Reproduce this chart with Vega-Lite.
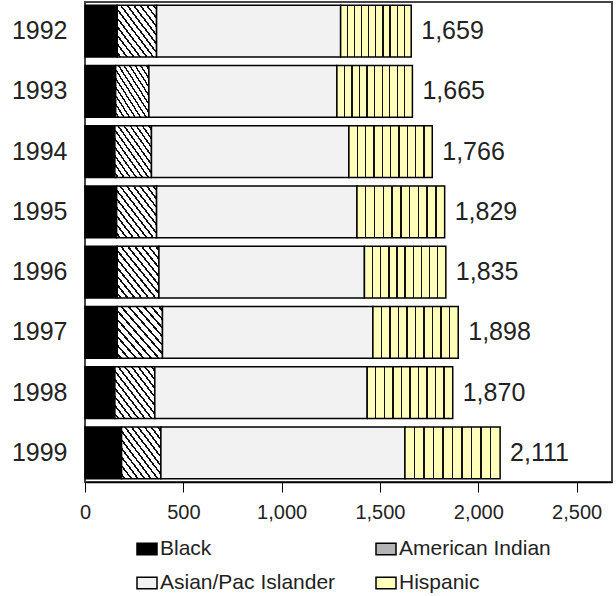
{
  "$schema": "https://vega.github.io/schema/vega-lite/v6.json",
  "width": 527,
  "height": 480,
  "padding": {"left": 11, "top": 2, "right": 4, "bottom": 0},
  "background": "#ffffff",
  "config": {
    "font": "Liberation Sans",
    "view": {"stroke": "#444", "strokeWidth": 2}
  },
  "data": {
    "values": [
      {"year": "1992", "category": "Black", "order": 1, "value": 164},
      {"year": "1992", "category": "American Indian", "order": 2, "value": 200},
      {"year": "1992", "category": "Asian/Pac Islander", "order": 3, "value": 936},
      {"year": "1992", "category": "Hispanic", "order": 4, "value": 359},
      {"year": "1993", "category": "Black", "order": 1, "value": 156},
      {"year": "1993", "category": "American Indian", "order": 2, "value": 169},
      {"year": "1993", "category": "Asian/Pac Islander", "order": 3, "value": 956},
      {"year": "1993", "category": "Hispanic", "order": 4, "value": 384},
      {"year": "1994", "category": "Black", "order": 1, "value": 152},
      {"year": "1994", "category": "American Indian", "order": 2, "value": 186},
      {"year": "1994", "category": "Asian/Pac Islander", "order": 3, "value": 1004},
      {"year": "1994", "category": "Hispanic", "order": 4, "value": 424},
      {"year": "1995", "category": "Black", "order": 1, "value": 161},
      {"year": "1995", "category": "American Indian", "order": 2, "value": 203},
      {"year": "1995", "category": "Asian/Pac Islander", "order": 3, "value": 1019},
      {"year": "1995", "category": "Hispanic", "order": 4, "value": 446},
      {"year": "1996", "category": "Black", "order": 1, "value": 164},
      {"year": "1996", "category": "American Indian", "order": 2, "value": 212},
      {"year": "1996", "category": "Asian/Pac Islander", "order": 3, "value": 1045},
      {"year": "1996", "category": "Hispanic", "order": 4, "value": 414},
      {"year": "1997", "category": "Black", "order": 1, "value": 164},
      {"year": "1997", "category": "American Indian", "order": 2, "value": 230},
      {"year": "1997", "category": "Asian/Pac Islander", "order": 3, "value": 1070},
      {"year": "1997", "category": "Hispanic", "order": 4, "value": 434},
      {"year": "1998", "category": "Black", "order": 1, "value": 152},
      {"year": "1998", "category": "American Indian", "order": 2, "value": 203},
      {"year": "1998", "category": "Asian/Pac Islander", "order": 3, "value": 1080},
      {"year": "1998", "category": "Hispanic", "order": 4, "value": 435},
      {"year": "1999", "category": "Black", "order": 1, "value": 186},
      {"year": "1999", "category": "American Indian", "order": 2, "value": 200},
      {"year": "1999", "category": "Asian/Pac Islander", "order": 3, "value": 1241},
      {"year": "1999", "category": "Hispanic", "order": 4, "value": 484}
    ]
  },
  "layer": [
    {
      "mark": {"type": "bar", "stroke": "#000", "strokeWidth": 1.5},
      "encoding": {
        "y": {
          "field": "year", "type": "ordinal",
          "scale": {"paddingInner": 0.142, "paddingOuter": 0.055},
          "axis": {"title": null, "ticks": false, "domain": false, "labelFontSize": 25, "labelColor": "#222", "labelPadding": 18, "labelFont": "Liberation Sans"}
        },
        "x": {
          "field": "value", "type": "quantitative", "stack": "zero",
          "scale": {"domain": [0, 2680], "nice": false},
          "axis": {"title": null, "grid": false, "values": [0, 500, 1000, 1500, 2000, 2500], "format": ",.0f", "tickSize": 10, "tickColor": "#000", "domainColor": "#000", "domainWidth": 1.5, "labelFontSize": 20, "labelColor": "#222", "labelPadding": 10, "labelFont": "Liberation Sans", "labelFlush": false}
        },
        "fill": {
          "field": "category", "type": "nominal",
          "scale": {
            "domain": ["Black", "American Indian", "Asian/Pac Islander", "Hispanic"],
            "range": ["#000000", "#b4b4b4", "#f2f2f2", "#ffffbb"]
          },
          "condition": [
            {"test": "datum.category === 'American Indian'", "value": {"gradient": "linear", "x1": 0, "y1": 1, "x2": 1, "y2": 0, "stops": [
                {"offset": 0, "color": "#ffffff"},
                {"offset": 0.030, "color": "#ffffff"}, {"offset": 0.030, "color": "#111111"}, {"offset": 0.055, "color": "#111111"}, {"offset": 0.055, "color": "#ffffff"},
                {"offset": 0.113, "color": "#ffffff"}, {"offset": 0.113, "color": "#111111"}, {"offset": 0.138, "color": "#111111"}, {"offset": 0.138, "color": "#ffffff"},
                {"offset": 0.197, "color": "#ffffff"}, {"offset": 0.197, "color": "#111111"}, {"offset": 0.222, "color": "#111111"}, {"offset": 0.222, "color": "#ffffff"},
                {"offset": 0.280, "color": "#ffffff"}, {"offset": 0.280, "color": "#111111"}, {"offset": 0.305, "color": "#111111"}, {"offset": 0.305, "color": "#ffffff"},
                {"offset": 0.363, "color": "#ffffff"}, {"offset": 0.363, "color": "#111111"}, {"offset": 0.388, "color": "#111111"}, {"offset": 0.388, "color": "#ffffff"},
                {"offset": 0.447, "color": "#ffffff"}, {"offset": 0.447, "color": "#111111"}, {"offset": 0.472, "color": "#111111"}, {"offset": 0.472, "color": "#ffffff"},
                {"offset": 0.530, "color": "#ffffff"}, {"offset": 0.530, "color": "#111111"}, {"offset": 0.555, "color": "#111111"}, {"offset": 0.555, "color": "#ffffff"},
                {"offset": 0.613, "color": "#ffffff"}, {"offset": 0.613, "color": "#111111"}, {"offset": 0.638, "color": "#111111"}, {"offset": 0.638, "color": "#ffffff"},
                {"offset": 0.697, "color": "#ffffff"}, {"offset": 0.697, "color": "#111111"}, {"offset": 0.722, "color": "#111111"}, {"offset": 0.722, "color": "#ffffff"},
                {"offset": 0.780, "color": "#ffffff"}, {"offset": 0.780, "color": "#111111"}, {"offset": 0.805, "color": "#111111"}, {"offset": 0.805, "color": "#ffffff"},
                {"offset": 0.863, "color": "#ffffff"}, {"offset": 0.863, "color": "#111111"}, {"offset": 0.888, "color": "#111111"}, {"offset": 0.888, "color": "#ffffff"},
                {"offset": 0.947, "color": "#ffffff"}, {"offset": 0.947, "color": "#111111"}, {"offset": 0.972, "color": "#111111"}, {"offset": 0.972, "color": "#ffffff"},
                {"offset": 1, "color": "#ffffff"}
              ]}},
            {"test": "datum.category === 'Hispanic'", "value": {"gradient": "linear", "x1": 0, "y1": 0, "x2": 1, "y2": 0, "stops": [
                {"offset": 0, "color": "#ffffbb"},
                {"offset": 0.092, "color": "#ffffbb"}, {"offset": 0.092, "color": "#111111"}, {"offset": 0.108, "color": "#111111"}, {"offset": 0.108, "color": "#ffffbb"},
                {"offset": 0.192, "color": "#ffffbb"}, {"offset": 0.192, "color": "#111111"}, {"offset": 0.208, "color": "#111111"}, {"offset": 0.208, "color": "#ffffbb"},
                {"offset": 0.292, "color": "#ffffbb"}, {"offset": 0.292, "color": "#111111"}, {"offset": 0.308, "color": "#111111"}, {"offset": 0.308, "color": "#ffffbb"},
                {"offset": 0.392, "color": "#ffffbb"}, {"offset": 0.392, "color": "#111111"}, {"offset": 0.408, "color": "#111111"}, {"offset": 0.408, "color": "#ffffbb"},
                {"offset": 0.492, "color": "#ffffbb"}, {"offset": 0.492, "color": "#111111"}, {"offset": 0.508, "color": "#111111"}, {"offset": 0.508, "color": "#ffffbb"},
                {"offset": 0.592, "color": "#ffffbb"}, {"offset": 0.592, "color": "#111111"}, {"offset": 0.608, "color": "#111111"}, {"offset": 0.608, "color": "#ffffbb"},
                {"offset": 0.692, "color": "#ffffbb"}, {"offset": 0.692, "color": "#111111"}, {"offset": 0.708, "color": "#111111"}, {"offset": 0.708, "color": "#ffffbb"},
                {"offset": 0.792, "color": "#ffffbb"}, {"offset": 0.792, "color": "#111111"}, {"offset": 0.808, "color": "#111111"}, {"offset": 0.808, "color": "#ffffbb"},
                {"offset": 0.892, "color": "#ffffbb"}, {"offset": 0.892, "color": "#111111"}, {"offset": 0.908, "color": "#111111"}, {"offset": 0.908, "color": "#ffffbb"},
                {"offset": 1, "color": "#ffffbb"}
              ]}}
          ],
          "legend": {
            "orient": "none", "legendX": 51, "legendY": 536, "columns": 2, "direction": "horizontal", "title": null,
            "symbolType": "M-1,-0.57H1V0.57H-1Z", "symbolSize": 400,
            "symbolStrokeColor": "#000", "symbolStrokeWidth": 1.5,
            "labelFontSize": 21, "labelColor": "#222", "labelOffset": 2, "labelFont": "Liberation Sans",
            "columnPadding": 37, "rowPadding": 13, "padding": 0, "labelLimit": 300
          }
        },
        "order": {"field": "order", "type": "quantitative"}
      }
    },
    {
      "transform": [{"aggregate": [{"op": "sum", "field": "value", "as": "total"}], "groupby": ["year"]}],
      "mark": {"type": "text", "align": "left", "baseline": "middle", "dx": 10, "fontSize": 25, "color": "#222", "font": "Liberation Sans"},
      "encoding": {
        "y": {"field": "year", "type": "ordinal"},
        "x": {"field": "total", "type": "quantitative"},
        "text": {"field": "total", "type": "quantitative", "format": ","}
      }
    }
  ]
}
